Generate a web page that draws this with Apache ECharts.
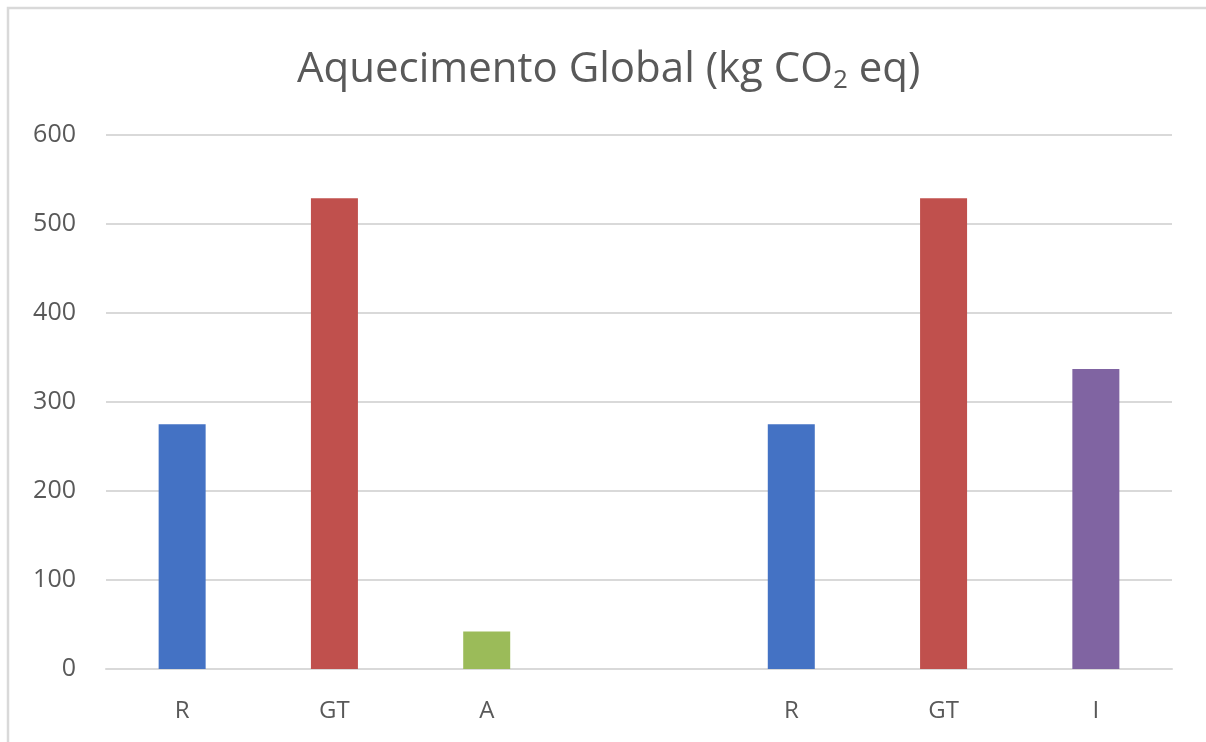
<!DOCTYPE html>
<html>
<head>
<meta charset="utf-8">
<script src="https://cdn.jsdelivr.net/npm/echarts@6/dist/echarts.min.js"></script>
<style>
  html, body { margin: 0; padding: 0; background: #fff; }
  #chart { width: 1206px; height: 742px; }
</style>
</head>
<body>
<div id="chart"></div>
<script>
// Global warming potential per process stage (kg CO2 eq)
const categories = ['R', 'GT', 'A', '', 'R', 'GT', 'I'];
const values = [275, 529, 42, null, 275, 529, 337];
const barColors = ['#4472C4', '#C0504D', '#9BBB59', '#4472C4', '#4472C4', '#C0504D', '#8064A2'];
const yTicks = { min: 0, max: 600, interval: 100 };

const chart = echarts.init(document.getElementById('chart'), null, { renderer: 'canvas' });

const font = "'Open Sans', 'Liberation Sans', sans-serif";

chart.setOption({
  animation: false,
  backgroundColor: '#ffffff',
  graphic: [{
    type: 'rect',
    shape: { x: 8, y: 8, width: 1220, height: 760 },
    style: { fill: 'none', stroke: '#d9d9d9', lineWidth: 2.5 },
    silent: true
  }],
  title: {
    left: 297,
    top: 43,
    padding: 0,
    text: '{a|Aquecimento Global (kg CO}{s|2}{a| eq)}',
    textStyle: {
      fontWeight: 'normal',
      rich: {
        a: { fontFamily: font, fontSize: 42, fontWeight: 'normal', color: '#595959', lineHeight: 54 },
        s: { fontFamily: font, fontSize: 26, fontWeight: 'normal', color: '#595959', lineHeight: 54, padding: [22, 0, 0, 0] }
      }
    }
  },
  grid: { left: 106, right: 34, top: 135, bottom: 73, containLabel: false },
  xAxis: {
    type: 'category',
    data: categories,
    axisLine: { show: true, lineStyle: { color: '#d9d9d9', width: 2 } },
    axisTick: { show: false },
    axisLabel: { color: '#595959', fontFamily: font, fontSize: 24, margin: 30 }
  },
  yAxis: {
    type: 'value',
    min: yTicks.min,
    max: yTicks.max,
    interval: yTicks.interval,
    axisLine: { show: false },
    axisTick: { show: false },
    splitLine: { lineStyle: { color: '#d9d9d9', width: 2 } },
    axisLabel: { color: '#595959', fontFamily: font, fontSize: 25, margin: 30 }
  },
  series: [{
    type: 'bar',
    barWidth: 47,
    data: values.map((v, i) => ({ value: v, itemStyle: { color: barColors[i] } }))
  }]
});
</script>
</body>
</html>
